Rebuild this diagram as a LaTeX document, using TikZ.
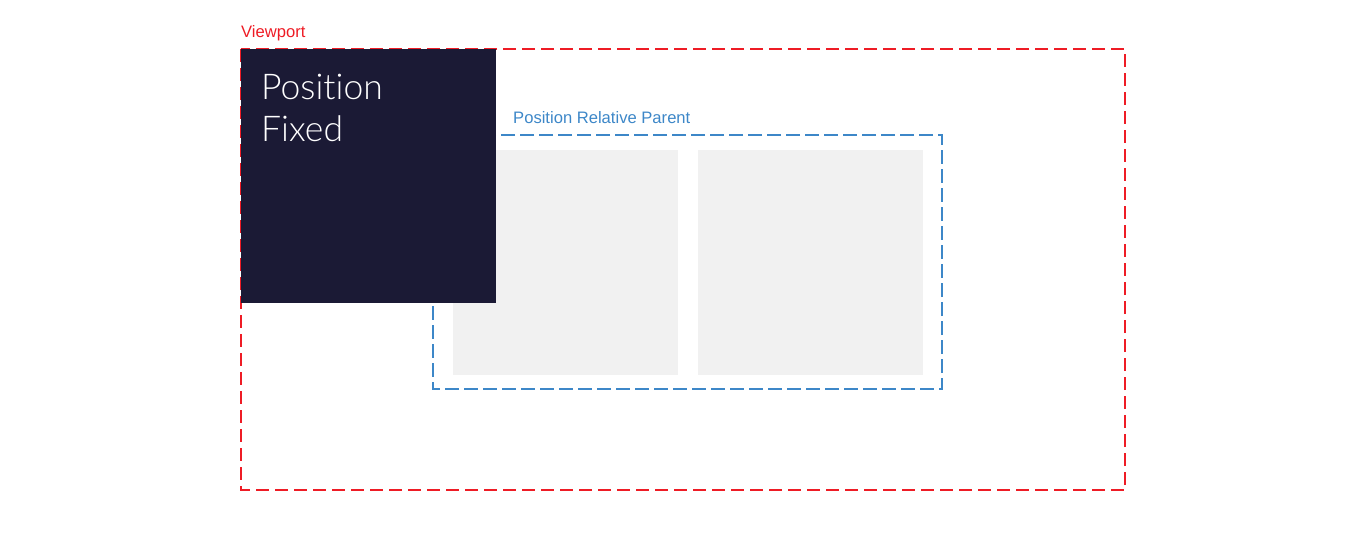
\documentclass[tikz,border=0pt]{standalone}
\usepackage{fontspec}
\setmainfont{Liberation Sans}
\newfontfamily\lightfont{Lato Light}[Ligatures={NoCommon,NoContextual}]
\definecolor{vpred}{HTML}{EE1C25}
\definecolor{relblue}{HTML}{3D87C8}
\definecolor{fixdark}{HTML}{1B1A35}
\definecolor{boxgray}{HTML}{F1F1F1}
\tikzset{
  viewportbox/.style={draw=vpred, line width=2.4pt, dash pattern=on 13pt off 6pt},
  relbox/.style={draw=relblue, line width=1.1pt, dash pattern=on 14pt off 5pt},
  graybox/.style={fill=boxgray, draw=none},
  fixedbox/.style={fill=fixdark, draw=none},
  smalllabel/.style={font=\fontsize{16.6}{19}\selectfont, inner sep=0pt, anchor=base west},
}
\begin{document}
\begin{tikzpicture}[x=1pt, y=-1pt]
  \useasboundingbox (0,0) rectangle (1366,540);
  % viewport
  \draw[viewportbox] (241,49) rectangle (1125,490);
  \node[smalllabel, text=vpred] (vplabel) at (241,37.5) {Viewport};
  % relative parent
  \draw[relbox] (433,135) rectangle (942,389);
  \node[smalllabel, text=relblue] (rellabel) at (513,124) {Position Relative Parent};
  % children
  \fill[graybox] (453,150) rectangle (678,375);
  \fill[graybox] (698,150) rectangle (923,375);
  % fixed box
  \fill[fixedbox] (241,49) rectangle (496,303);
  \node[anchor=north west, inner sep=0pt, text=white, align=left,
        font=\lightfont\fontsize{35.5}{42}\selectfont] (fixedtext) at (261,74) {Position\\Fixed};
\end{tikzpicture}
\end{document}
